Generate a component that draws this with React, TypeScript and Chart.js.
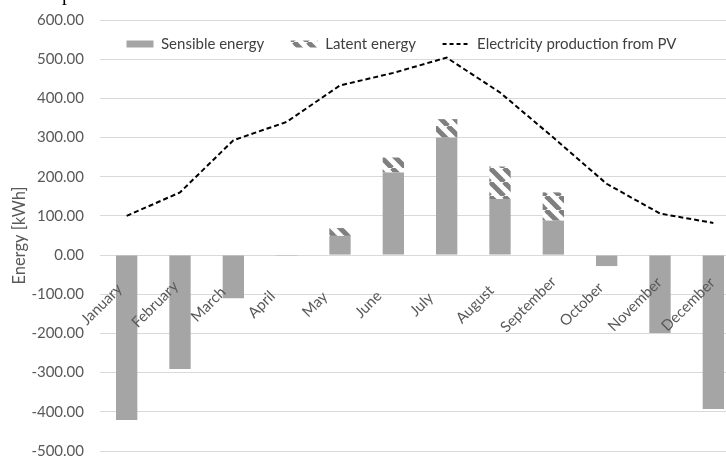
import React, { useEffect, useRef } from "react";
import { Chart, registerables } from "chart.js";

Chart.register(...registerables);

const months = [
  "January", "February", "March", "April", "May", "June",
  "July", "August", "September", "October", "November", "December",
];
const sensibleEnergy = [-421, -291, -110, -2, 49, 211, 300, 143, 88, -28, -199, -393];
const latentEnergy = [0, 0, 0, 0, 20, 38, 47, 83, 72, 0, 0, 0];
const pvElectricity = [100, 160, 293, 340, 433, 465, 504, 415, 300, 182, 106, 82];
const seriesLabels = ["Sensible energy", "Latent energy", "Electricity production from PV"];
const axisTitle = "Energy [kWh]";
const yMin = -500;
const yMax = 600;
const yStep = 100;

function makeHatch(): CanvasPattern | string {
  const s = 14;
  const c = document.createElement("canvas");
  c.width = s;
  c.height = s;
  const ctx = c.getContext("2d");
  if (!ctx) return "#7f7f7f";
  ctx.fillStyle = "#ffffff";
  ctx.fillRect(0, 0, s, s);
  ctx.strokeStyle = "#7f7f7f";
  ctx.lineWidth = 5;
  for (const o of [-s, 0, s]) {
    ctx.beginPath();
    ctx.moveTo(o, 0);
    ctx.lineTo(o + s, s);
    ctx.stroke();
  }
  return ctx.createPattern(c, "repeat") || "#7f7f7f";
}

// Lets the legend overlap the plot area: layout reserves only a thin strip,
// then the legend box is enlarged so its items are not clipped.
const legendOverlay = {
  id: "legendOverlay",
  afterLayout(chart: any) {
    const l = chart.legend;
    if (l) {
      l.height = 50;
      l.bottom = l.top + 50;
    }
  },
};

export default function App() {
  const ref = useRef<HTMLCanvasElement | null>(null);

  useEffect(() => {
    if (!ref.current) return;
    const font = { family: "Lato", size: 15 };
    const textColor = "#595959";
    const hatch = makeHatch();
    const chart = new Chart(ref.current, {
      type: "bar",
      data: {
        labels: months,
        datasets: [
          {
            type: "bar",
            label: seriesLabels[0],
            data: sensibleEnergy,
            backgroundColor: "#a5a5a5",
            borderWidth: 0,
            pointStyle: "rect",
            barPercentage: 0.4,
            categoryPercentage: 1,
            stack: "energy",
          } as any,
          {
            type: "bar",
            label: seriesLabels[1],
            data: latentEnergy,
            backgroundColor: hatch,
            borderWidth: 0,
            pointStyle: "rect",
            barPercentage: 0.4,
            categoryPercentage: 1,
            stack: "energy",
          } as any,
          {
            type: "line",
            label: seriesLabels[2],
            data: pvElectricity,
            borderColor: "#000000",
            backgroundColor: "#000000",
            borderWidth: 2,
            borderDash: [5, 3],
            pointRadius: 0,
            pointStyle: "line",
            fill: false,
            tension: 0,
            stack: "pv",
          } as any,
        ],
      },
      options: {
        responsive: true,
        maintainAspectRatio: false,
        animation: false,
        layout: { padding: { top: 10, left: 0, right: 0, bottom: 7 } },
        plugins: {
          legend: {
            position: "top",
            fullSize: false,
            maxHeight: 10,
            align: "start",
            labels: {
              usePointStyle: true,
              pointStyleWidth: 27,
              boxHeight: 7,
              padding: 26.5,
              color: "#404040",
              font,
              generateLabels: (c: any) => {
                const items = (Chart.defaults.plugins.legend.labels as any).generateLabels(c);
                items.forEach((it: any) => {
                  if (it.datasetIndex === 2) {
                    it.lineDash = [4, 3];
                    it.lineWidth = 2;
                    it.strokeStyle = "#000000";
                  }
                });
                return items;
              },
            },
          } as any,
          tooltip: { enabled: false },
        },
        scales: {
          x: {
            type: "category",
            position: { y: 0 } as any,
            stacked: true,
            offset: true,
            grid: { display: false, drawTicks: false },
            border: { display: false },
            ticks: {
              autoSkip: false,
              minRotation: 45,
              maxRotation: 45,
              padding: 43,
              labelOffset: -25,
              z: 1,
              color: textColor,
              font,
            },
            afterFit: (s: any) => {
              s.height = 0;
              s.paddingLeft = 0;
              s.paddingRight = 0;
              s._getXAxisLabelAlignment = () => "center";
            },
          },
          y: {
            stacked: true,
            min: yMin,
            max: yMax,
            ticks: {
              stepSize: yStep,
              padding: 0,
              color: textColor,
              font: { family: "Lato", size: 15, lineHeight: 0.9 },
              callback: (v: any) => Number(v).toFixed(2),
            },
            grid: {
              color: "#d9d9d9",
              drawTicks: true,
              tickLength: 16,
              tickColor: "rgba(0,0,0,0)",
            },
            border: { display: false },
            title: {
              display: true,
              text: axisTitle,
              color: textColor,
              font: { family: "Lato", size: 16.5 },
              padding: { top: 10, bottom: 4 },
            },
            afterFit: (s: any) => {
              s.width = 100;
            },
          },
        },
      } as any,
      plugins: [legendOverlay],
    });
    return () => chart.destroy();
  }, []);

  return (
    <div
      style={{
        position: "fixed",
        left: 0,
        top: 0,
        width: 726,
        height: 458,
        overflow: "hidden",
        background: "#ffffff",
      }}
    >
      <div style={{ position: "absolute", left: 0, top: 0, width: 740, height: 458 }}>
        <canvas ref={ref} />
      </div>
      <div
        style={{
          position: "absolute",
          left: 62,
          top: -17,
          fontFamily: '"Liberation Serif", serif',
          fontSize: 20,
          lineHeight: "20px",
          color: "#000",
        }}
      >
        p
      </div>
    </div>
  );
}
